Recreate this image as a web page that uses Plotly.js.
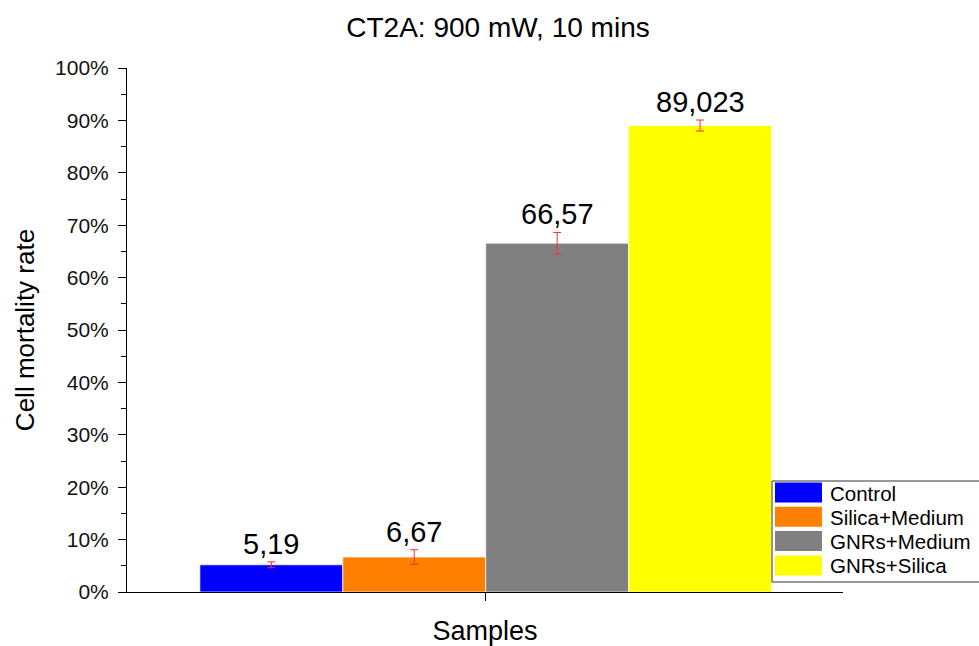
<!DOCTYPE html>
<html>
<head>
<meta charset="utf-8">
<script src="https://cdn.plot.ly/plotly-3.0.1.min.js"></script>
<style>
  html, body { margin: 0; padding: 0; background: #ffffff; overflow: hidden; }
  #chart { width: 979px; height: 646px; }
</style>
</head>
<body>
<div id="chart"></div>
<script>
// Sample groups and measured cell mortality (%)
const samples = ["Control", "Silica+Medium", "GNRs+Medium", "GNRs+Silica"];
const mortality = [5.19, 6.67, 66.57, 89.023];
const mortalityErr = [0.55, 1.4, 2.05, 1.05];
const valueLabels = ["5,19", "6,67", "66,57", "89,023"];
const barColors = ["#0000ff", "#ff7f00", "#808080", "#ffff00"];

const yTickVals = [0, 10, 20, 30, 40, 50, 60, 70, 80, 90, 100];
const yTickText = yTickVals.map(v => v + "%");

const FONT = "Liberation Sans, Arial, sans-serif";

// Figure and plot-area geometry (pixels)
const W = 979, H = 646;
const M = { l: 127, r: 136, t: 68, b: 54 };
const plotW = W - M.l - M.r, plotH = H - M.t - M.b;
const px2x = px => (px - M.l) / plotW;
const px2y = py => (H - M.b - py) / plotH;

// One trace per sample
const traces = samples.map((name, i) => ({
  type: "bar",
  name: name,
  x: [i],
  y: [mortality[i]],
  width: 1,
  marker: { color: barColors[i], line: { color: "rgba(255,255,255,0.7)", width: 1 } },
  error_y: { type: "data", array: [mortalityErr[i]], visible: true, color: "#ff2a2a", thickness: 1, width: 4 },
  hoverinfo: "name+y"
}));

// Value labels sit just above the top of each error bar
const annotations = samples.map((name, i) => ({
  x: i,
  y: mortality[i] + mortalityErr[i],
  xref: "x",
  yref: "y",
  text: valueLabels[i],
  showarrow: false,
  yanchor: "bottom",
  yshift: 0,
  font: { family: FONT, size: 29, color: "#000000" }
}));

// Boxed legend with wide colour swatches, lower right
const shapes = [];
const legLeft = 772, legTop = 481, legBottom = 582, rowPitch = 24.3;
shapes.push({
  type: "rect", xref: "paper", yref: "paper",
  x0: px2x(legLeft), x1: px2x(W + 10), y0: px2y(legBottom), y1: px2y(legTop),
  line: { color: "#333333", width: 1 }, fillcolor: "#ffffff", layer: "above"
});
samples.forEach((name, i) => {
  const top = legTop + 1.5 + i * rowPitch;
  shapes.push({
    type: "rect", xref: "paper", yref: "paper",
    x0: px2x(775), x1: px2x(822), y0: px2y(top + 20), y1: px2y(top),
    line: { width: 0 }, fillcolor: barColors[i], layer: "above"
  });
  annotations.push({
    x: px2x(828), y: px2y(top + 10.5), xref: "paper", yref: "paper",
    xanchor: "left", yanchor: "middle", showarrow: false,
    text: name,
    font: { family: FONT, size: 20.5, color: "#000000" }
  });
});

const layout = {
  width: W,
  height: H,
  paper_bgcolor: "#ffffff",
  plot_bgcolor: "#ffffff",
  margin: M,
  showlegend: false,
  title: {
    text: "CT2A: 900 mW, 10 mins",
    font: { family: FONT, size: 28, color: "#000000" },
    xref: "container",
    x: 498 / W,
    xanchor: "center",
    yref: "container",
    y: 1 - 27 / H,
    yanchor: "middle"
  },
  xaxis: {
    range: [-1.01, 4.0],
    showgrid: false,
    zeroline: false,
    showline: true,
    linecolor: "#000000",
    linewidth: 1,
    tickmode: "array",
    tickvals: [1.5],
    ticktext: [""],
    ticks: "outside",
    ticklen: 8,
    tickcolor: "#000000",
    title: { text: "Samples", font: { family: FONT, size: 27, color: "#000000" }, standoff: 19 },
    fixedrange: true
  },
  yaxis: {
    range: [0, 100],
    showgrid: false,
    zeroline: false,
    showline: true,
    linecolor: "#000000",
    linewidth: 1,
    tickmode: "array",
    tickvals: yTickVals,
    ticktext: yTickText,
    ticks: "outside",
    ticklen: 8,
    tickcolor: "#000000",
    ticklabelstandoff: 5,
    tickfont: { family: FONT, size: 21, color: "#111111" },
    minor: { dtick: 5, ticks: "outside", ticklen: 5, tickcolor: "#000000", showgrid: false },
    title: { text: "Cell mortality rate", font: { family: FONT, size: 26, color: "#000000" }, standoff: 12 },
    fixedrange: true
  },
  shapes: shapes,
  annotations: annotations
};

Plotly.newPlot("chart", traces, layout, { displayModeBar: false, staticPlot: true });
</script>
</body>
</html>
